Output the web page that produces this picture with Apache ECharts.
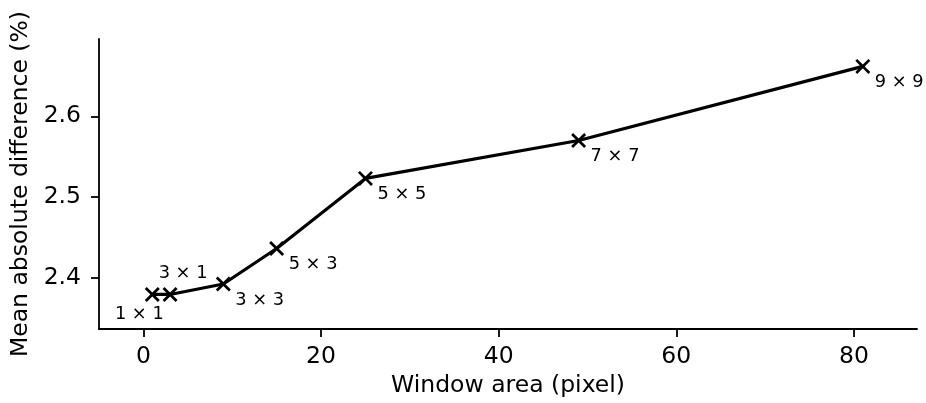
<!DOCTYPE html>
<html>
<head>
<meta charset="utf-8">
<script src="https://cdn.jsdelivr.net/npm/echarts@6/dist/echarts.min.js"></script>
<style>
  html, body { margin: 0; padding: 0; background: #fff; }
  #chart { width: 926px; height: 403px; }
</style>
</head>
<body>
<div id="chart"></div>
<script>
// window sizes and their measured differences
const windowAreas = [1, 3, 9, 15, 25, 49, 81]
const meanAbsDiff = [2.379, 2.379, 2.392, 2.436, 2.523, 2.570, 2.662]
const windowLabels = ['1 × 1', '3 × 1', '3 × 3', '5 × 3', '5 × 5', '7 × 7', '9 × 9']
const xTicks = [0, 20, 40, 60, 80]
const yTicks = [2.4, 2.5, 2.6]

const FONT = 'DejaVu Sans'
// filled "x" marker
const crossPath = 'path://M0,1.8L1.8,0L7,5.2L12.2,0L14,1.8L8.8,7L14,12.2L12.2,14L7,8.8L1.8,14L0,12.2L5.2,7Z'

function labelFor (i) {
  // annotation placement: most sit down-right of the marker
  if (i === 0) return { align: 'center', offset: [-13, 20] }
  if (i === 1) return { align: 'center', offset: [13, -21] }
  return { align: 'left', offset: [12, 16] }
}

const points = windowAreas.map((x, i) => ({
  value: [x, meanAbsDiff[i]],
  label: Object.assign({
    show: true,
    formatter: windowLabels[i],
    position: 'inside',
    verticalAlign: 'middle',
    fontFamily: FONT,
    fontSize: 17.8,
    color: '#000'
  }, labelFor(i))
}))

const chart = echarts.init(document.getElementById('chart'), null, { renderer: 'canvas' })

const axisCommon = {
  axisLine: { show: true, onZero: false, lineStyle: { color: '#000', width: 1.8 } },
  axisTick: { show: true, length: 8, lineStyle: { color: '#000', width: 1.8 } },
  splitLine: { show: false },
  nameLocation: 'middle',
  nameTextStyle: { fontFamily: FONT, fontSize: 23.5, color: '#000' }
}

chart.setOption({
  animation: false,
  grid: { left: 99, right: 9, top: 39, bottom: 73, containLabel: false },
  xAxis: Object.assign({}, axisCommon, {
    type: 'value',
    min: -5,
    max: 87.1,
    name: 'Window area (pixel)',
    nameGap: 42,
    axisTick: Object.assign({}, axisCommon.axisTick, { customValues: xTicks }),
    axisLabel: { customValues: xTicks, margin: 16, fontFamily: FONT, fontSize: 23.5, color: '#000' }
  }),
  yAxis: Object.assign({}, axisCommon, {
    type: 'value',
    min: 2.336,
    max: 2.696,
    name: 'Mean absolute difference (%)',
    nameGap: 63,
    axisTick: Object.assign({}, axisCommon.axisTick, { customValues: yTicks }),
    axisLabel: {
      customValues: yTicks,
      margin: 18,
      fontFamily: FONT,
      fontSize: 23.5,
      color: '#000',
      formatter: v => v.toFixed(1)
    }
  }),
  series: [{
    type: 'line',
    data: points,
    symbol: crossPath,
    symbolSize: 15,
    showAllSymbol: true,
    lineStyle: { color: '#000', width: 3.2 },
    itemStyle: { color: '#000' },
    z: 3
  }]
})
</script>
</body>
</html>
